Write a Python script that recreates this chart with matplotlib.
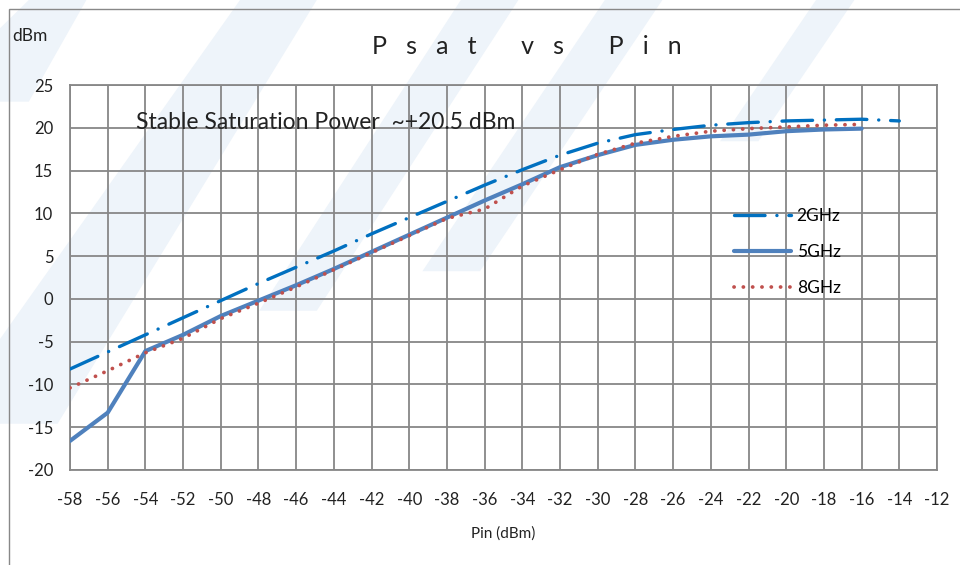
import matplotlib
matplotlib.use("Agg")
import matplotlib.pyplot as plt
from matplotlib.patches import Polygon, Rectangle

plt.rcParams['font.family'] = ['Lato', 'DejaVu Sans']
plt.rcParams['lines.scale_dashes'] = False
plt.rcParams['axes.unicode_minus'] = False

# data
pin = [-58, -56, -54, -52, -50, -48, -46, -44, -42, -40, -38, -36,
       -34, -32, -30, -28, -26, -24, -22, -20, -18, -16, -14]
psat_2g = [-8.2, -6.2, -4.2, -2.2, -0.2, 1.8, 3.7, 5.6, 7.6, 9.5, 11.4, 13.3,
           15.1, 16.8, 18.2, 19.2, 19.8, 20.3, 20.6, 20.8, 20.9, 21.0, 20.8]
psat_5g = [-16.6, -13.3, -6.1, -4.2, -2.0, -0.2, 1.6, 3.5, 5.5, 7.5, 9.5, 11.5,
           13.4, 15.4, 16.8, 18.0, 18.6, 19.0, 19.2, 19.6, 19.8, 19.9]
psat_8g = [-10.4, -8.4, -6.3, -4.6, -2.3, -0.5, 1.4, 3.4, 5.4, 7.4, 9.4, 10.5,
           13.2, 15.1, 16.9, 18.2, 19.0, 19.6, 19.9, 20.1, 20.3, 20.4]
x_ticks = list(range(-58, -11, 2))
y_ticks = list(range(-20, 26, 5))

fig = plt.figure(figsize=(9.6, 5.65), dpi=100)

# faint watermark bands behind the chart
wm = "#eef4fa"
for band in [[(0.03, 1.0), (0.09, 1.0), (0.03, 0.82), (0.0, 0.82), (0.0, 0.95)],
             [(0.25, 1.0), (0.33, 1.0), (0.06, 0.25), (0.0, 0.25), (0.0, 0.40)],
             [(0.48, 1.0), (0.54, 1.0), (0.33, 0.45), (0.27, 0.45)],
             [(0.63, 1.0), (0.69, 1.0), (0.50, 0.52), (0.44, 0.52)],
             [(0.85, 1.0), (0.89, 1.0), (0.79, 0.75), (0.75, 0.75)]]:
    fig.patches.append(Polygon(band, closed=True, transform=fig.transFigure,
                               facecolor=wm, edgecolor="none", zorder=0))

# outer chart border
fig.patches.append(Rectangle((9 / 960, -0.1), 1.2, 1.1 - 9 / 565, transform=fig.transFigure,
                             fill=False, edgecolor="#888888", lw=1.0, zorder=1))

ax = fig.add_axes([70 / 960, 1 - 470 / 565, 867 / 960, 385 / 565])
ax.set_zorder(2)
ax.patch.set_alpha(0)

ax.plot(pin, psat_2g, color="#0070C0", lw=2.4, dashes=(22, 8.5, 0.1, 8.5),
        dash_capstyle="round", label="2GHz", zorder=3)
ax.plot(pin[:len(psat_5g)], psat_5g, color="#4F81BD", lw=3.0, label="5GHz",
        solid_capstyle="round", zorder=3)
ax.plot(pin[:len(psat_8g)], psat_8g, color="#C0504D", lw=2.7, dashes=(0.1, 6.6),
        dash_capstyle="round", label="8GHz", zorder=4)

ax.set_xlim(-58, -12)
ax.set_ylim(-20, 25)
ax.set_xticks(x_ticks)
ax.set_yticks(y_ticks)
ax.grid(True, color="#878787", lw=1.3)
ax.set_axisbelow(True)
for s in ax.spines.values():
    s.set_color("#878787")
    s.set_linewidth(1.3)
ax.tick_params(length=0, labelsize=12, colors="#222222")
ax.tick_params(axis="x", pad=16)
ax.tick_params(axis="y", pad=12)

ax.set_xlabel("Pin (dBm)", fontsize=11, color="#222222", labelpad=13)
fig.text(12 / 960, 1 - 36 / 565, "dBm", fontsize=12.5, color="#222222", va="center")
fig.text(527 / 960, 1 - 46 / 565, "P   s   a   t       v   s       P   i   n", fontsize=18,
         color="#222222", ha="center", va="center")
ax.text(-54.5, 20.6, "Stable Saturation Power  ~+20.5 dBm", fontsize=16.5,
        color="#222222", va="center")

leg = ax.legend(loc="upper left", bbox_to_anchor=(0.748, 0.72), frameon=False,
                fontsize=12.5, handlelength=3.3, labelspacing=1.15, handletextpad=0.3)

fig.savefig("out.png", dpi=100)
